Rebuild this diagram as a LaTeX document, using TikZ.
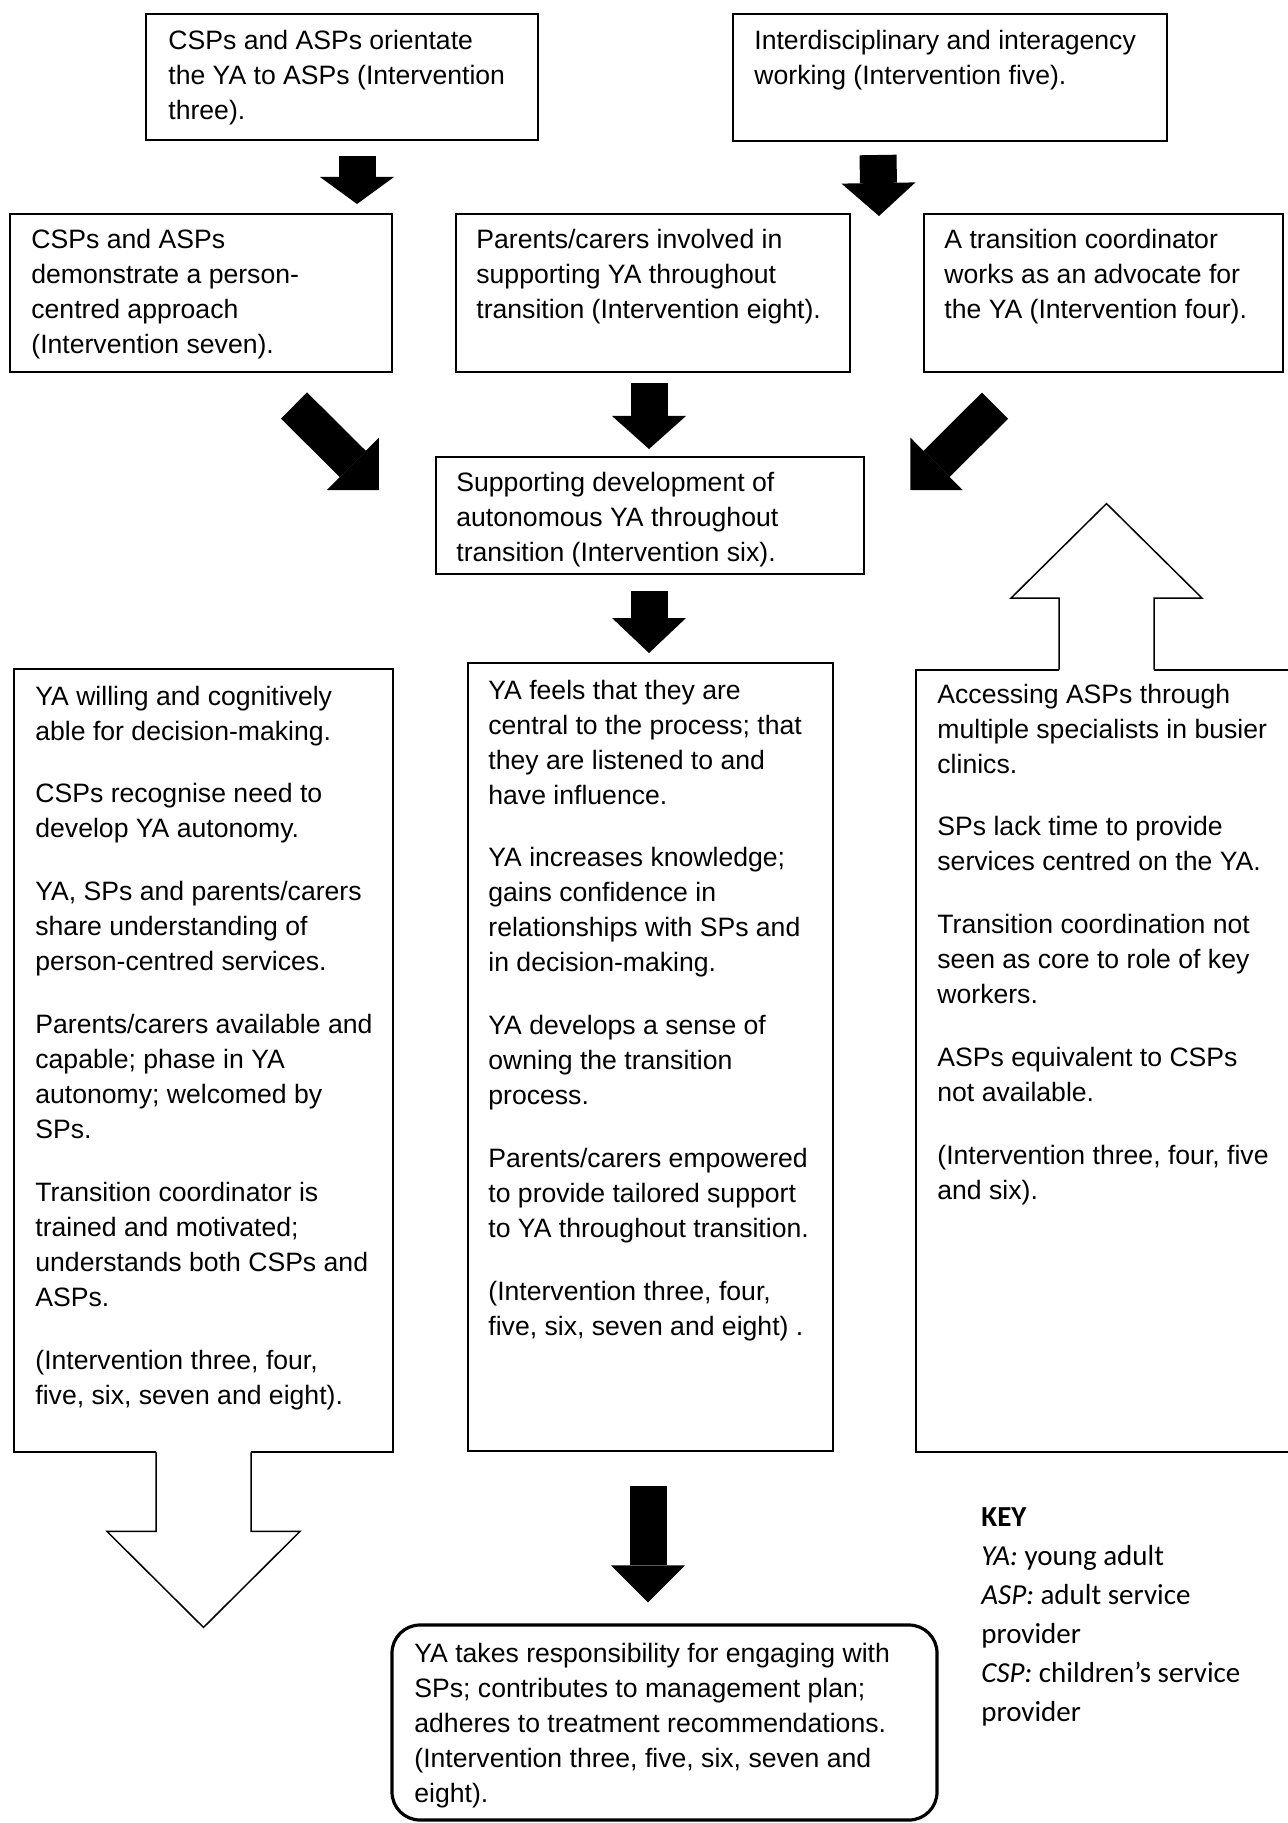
\documentclass[tikz,border=0pt]{standalone}
\usepackage{fontspec}
\setmainfont{Liberation Sans}
\newfontfamily\keyfont{Carlito}
\usetikzlibrary{arrows.meta,calc,fit}
\newcommand{\boxtext}[1]{\parbox[t]{260pt}{#1}}
\newcommand{\pgap}{\\[13.9pt]}

\begin{document}
\begin{tikzpicture}[x=0.5pt,y=-0.5pt,
  frame/.style={draw,line width=1pt,inner sep=0pt},
  area/.style={inner sep=0pt},
  txt/.style={anchor=base west,inner sep=0pt,font=\fontsize{13.3}{17.5}\selectfont},
  blk/.style={line width=18.5pt,-{Triangle[width=37pt,length=#1,line width=0pt]}},
  blk/.default=16.5pt,
  hollow/.style={line width=0.75pt}]
\useasboundingbox (0,0) rectangle (1287,1823);
% boxes
\node[frame,fit={(146,14) (538,140)}] (A) {};
\node[frame,fit={(733,14) (1167,141)}] (B) {};
\node[frame,fit={(10,214) (392,372)}] (C) {};
\node[frame,fit={(456,214) (850,372)}] (D) {};
\node[frame,fit={(924,214) (1283,372)}] (E) {};
\node[frame,fit={(436,457) (864,574)}] (F) {};
\node[area,fit={(14,669) (393,1452)}] (H) {};
\node[frame,fit={(468,663) (833,1451)}] (I) {};
\node[area,fit={(916,670) (1297,1452)}] (G) {};
\node[frame,fit={(392,1625) (937,1820)},rounded corners=14pt,line width=1.6pt] (J) {};
\draw[line width=1pt] ($(H.south)+(-47.5,0)$) -| (H.north west) -- (H.north east) |- ($(H.south)+(47.5,0)$);
\draw[line width=1pt] ($(G.north)+(-47.5,0)$) -| (G.south west) -- (G.south east) |- ($(G.north)+(47.5,0)$);
% texts
\node[txt] (At) at (168,50) {\boxtext{CSPs and ASPs orientate\\the YA to ASPs (Intervention\\three).}};
\node[txt] (Bt) at (754,50) {\boxtext{Interdisciplinary and interagency\\working (Intervention five).}};
\node[txt] (Ct) at (31,249) {\boxtext{CSPs and ASPs\\demonstrate a person-\\centred approach\\(Intervention seven).}};
\node[txt] (Dt) at (476,249) {\boxtext{Parents/carers involved in\\supporting YA throughout\\transition (Intervention eight).}};
\node[txt] (Et) at (944,249) {\boxtext{A transition coordinator\\works as an advocate for\\the YA (Intervention four).}};
\node[txt] (Ft) at (456,492) {\boxtext{Supporting development of\\autonomous YA throughout\\transition (Intervention six).}};
\node[txt] (Ht) at (35,705) {\boxtext{YA willing and cognitively\\able for decision-making.\pgap
CSPs recognise need to\\develop YA autonomy.\pgap
YA, SPs and parents/carers\\share understanding of\\person-centred services.\pgap
Parents/carers available and\\capable; phase in YA\\autonomy; welcomed by\\SPs.\pgap
Transition coordinator is\\trained and motivated;\\understands both CSPs and\\ASPs.\pgap
(Intervention three, four,\\five, six, seven and eight).}};
\node[txt] (It) at (488,699) {\boxtext{YA feels that they are\\central to the process; that\\they are listened to and\\have influence.\pgap
YA increases knowledge;\\gains confidence in\\relationships with SPs and\\in decision-making.\pgap
YA develops a sense of\\owning the transition\\process.\pgap
Parents/carers empowered\\to provide tailored support\\to YA throughout transition.\pgap
(Intervention three, four,\\five, six, seven and eight) .}};
\node[txt] (Gt) at (937,703) {\boxtext{Accessing ASPs through\\multiple specialists in busier\\clinics.\pgap
SPs lack time to provide\\services centred on the YA.\pgap
Transition coordination not\\seen as core to role of key\\workers.\pgap
ASPs equivalent to CSPs\\not available.\pgap
(Intervention three, four, five\\and six).}};
\node[txt] (Jt) at (414,1662) {\boxtext{YA takes responsibility for engaging with\\SPs; contributes to management plan;\\adheres to treatment recommendations.\\(Intervention three, five, six, seven and\\eight).}};
\node[txt,font=\keyfont\fontsize{14.5}{19.5}\selectfont] (K) at (981,1526) {\boxtext{\textbf{KEY}\\\textit{YA:} young adult\\\textit{ASP:} adult service\\provider\\\textit{CSP:} children’s service\\provider}};
% arrows
\draw[blk=13.5pt] ($(A.south)+(15,15)$) -- ($(C.north)+(156,-9)$);
\draw[blk] ($(B.south)+(-72,13)$) -- ($(D.north east)+(28,3)$);
\draw[blk] ($(D.south)+(-4,10)$) -- ($(F.north)+(-1,-7)$);
\draw[blk=17.5pt] ($(F.south)+(-1,16)$) -- ($(I.north)+(-1.5,-9)$);
\draw[blk=18.5pt] ($(I.south)+(-2.5,34)$) -- ($(J.north)+(-16.5,-21)$);
\draw[blk=18.5pt] ($(C.south)+(93,32.5)$) -- ($(F.west)+(-56,-25.5)$);
\draw[blk=18.5pt] ($(E.south)+(-108.5,32.7)$) -- ($(F.east)+(45.3,-25.5)$);
\draw[hollow] ($(H.south)+(-47.5,0)$) -- ++(0,79) -- ++(-49,0) -- ++(96.5,96) -- ++(96.5,-96) -- ++(-49,0) -- ++(0,-79);
\draw[hollow] ($(G.north)+(-47.5,0)$) -- ++(0,-71.5) -- ++(-48,0) -- ++(95.5,-94.5) -- ++(95.5,94.5) -- ++(-48,0) -- ++(0,71.5);
\end{tikzpicture}
\end{document}
